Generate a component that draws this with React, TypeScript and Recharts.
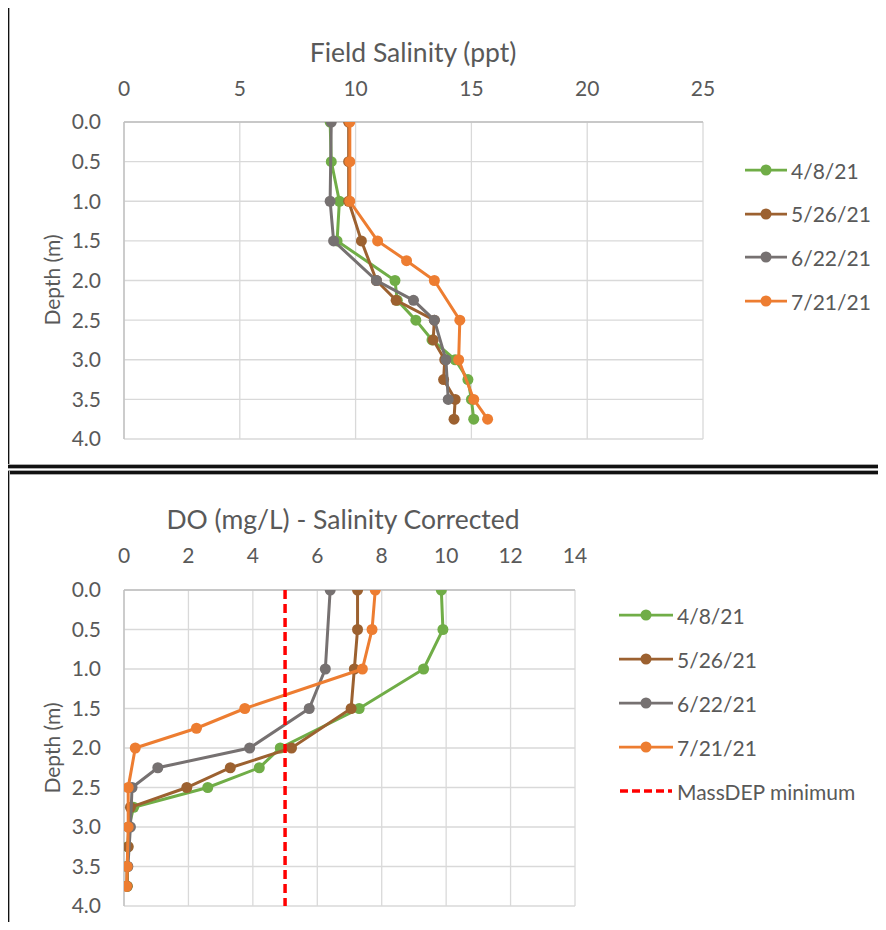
import React from 'react';
import { ScatterChart, Scatter, XAxis, YAxis, CartesianGrid } from 'recharts';

const FONT = 'Lato, "Open Sans", sans-serif';
const TEXT = '#595959';

const depthTicks = [0, 0.5, 1, 1.5, 2, 2.5, 3, 3.5, 4];
const salinityTicks = [0, 5, 10, 15, 20, 25];
const doTicks = [0, 2, 4, 6, 8, 10, 12, 14];

const seriesNames = ['4/8/21', '5/26/21', '6/22/21', '7/21/21'];
const seriesColors = ['#70AD47', '#9C6130', '#767171', '#ED7D31'];

const depths0408 = [0, 0.5, 1, 1.5, 2, 2.25, 2.5, 2.75, 3, 3.25, 3.5, 3.75];
const depths0526 = [0, 0.5, 1, 1.5, 2, 2.25, 2.5, 2.75, 3, 3.25, 3.5, 3.75];
const depths0622 = [0, 1, 1.5, 2, 2.25, 2.5, 3, 3.5];
const depths0721 = [0, 0.5, 1, 1.5, 1.75, 2, 2.5, 3, 3.5, 3.75];

const salinity0408 = [8.9, 8.95, 9.3, 9.2, 11.7, 11.8, 12.6, 13.3, 14.3, 14.85, 15.0, 15.1];
const salinity0526 = [9.7, 9.7, 9.7, 10.25, 10.9, 11.75, 13.4, 13.35, 13.85, 13.8, 14.3, 14.25];
const salinity0622 = [8.95, 8.9, 9.05, 10.9, 12.5, 13.4, 13.9, 14.0];
const salinity0721 = [9.75, 9.75, 9.75, 10.95, 12.2, 13.4, 14.5, 14.45, 15.1, 15.7];

const do0408 = [9.85, 9.9, 9.3, 7.3, 4.85, 4.2, 2.6, 0.3, 0.15, 0.12, 0.1, 0.1];
const do0526 = [7.25, 7.25, 7.15, 7.05, 5.2, 3.3, 1.95, 0.2, 0.15, 0.13, 0.1, 0.1];
const do0622 = [6.4, 6.25, 5.75, 3.9, 1.05, 0.25, 0.2, 0.12];
const do0721 = [7.8, 7.7, 7.4, 3.75, 2.25, 0.35, 0.13, 0.13, 0.1, 0.08];

const massDepValue = [5, 5];
const massDepDepth = [0, 4];
const massDepName = 'MassDEP minimum';

const allDepths = [depths0408, depths0526, depths0622, depths0721];
const allSalinity = [salinity0408, salinity0526, salinity0622, salinity0721];
const allDO = [do0408, do0526, do0622, do0721];

const build = (depths: number[], vals: number[]) => depths.map((d, i) => ({ d, v: vals[i] }));

const salinitySeries = allDepths.map((ds, i) => build(ds, allSalinity[i]));
const doSeries = allDepths.map((ds, i) => build(ds, allDO[i]));
const massDepData = build(massDepDepth, massDepValue);

const makeDot = (color: string) => (props: any) => (
  <circle cx={props.cx} cy={props.cy} r={5.5} fill={color} stroke="none" />
);
const noDot = () => <g />;

const tickStyle = { fill: TEXT, fontSize: 21, fontFamily: FONT };

const LegendItem = ({ top, left, lineW, color, label, dashed }: any) => (
  <div
    style={{
      position: 'absolute',
      left,
      top: top - 15,
      height: 30,
      display: 'flex',
      alignItems: 'center',
      fontFamily: FONT,
      fontSize: 21,
      color: TEXT,
      whiteSpace: 'nowrap',
    }}
  >
    <svg width={lineW} height={30} style={{ marginRight: 4 }}>
      {dashed ? (
        <line x1={1} y1={15} x2={lineW - 1} y2={15} stroke={color} strokeWidth={3.5} strokeDasharray="8 4" />
      ) : (
        <>
          <line x1={0} y1={15} x2={lineW} y2={15} stroke={color} strokeWidth={2.75} />
          <circle cx={lineW / 2} cy={15} r={5.5} fill={color} />
        </>
      )}
    </svg>
    {label}
  </div>
);

// frame edges: [left, top, width, height]
const frameEdges = [
  [6, 3, 890, 3],
  [6, 3, 3, 465],
  [6, 465, 890, 3],
  [6, 471, 890, 3],
  [6, 471, 3, 470],
];

const Frames = () => (
  <>
    {frameEdges.map(([l, t, w, h], i) => (
      <div
        key={i}
        style={{
          position: 'absolute',
          left: l,
          top: t,
          width: w,
          height: h,
          background: '#111',
          boxShadow: '0 0 0 1px #aaa',
          pointerEvents: 'none',
        }}
      />
    ))}
  </>
);

const YLabel = ({ cy }: any) => (
  <div
    style={{
      position: 'absolute',
      left: 52 - 60,
      top: cy - 14,
      width: 120,
      height: 28,
      lineHeight: '28px',
      textAlign: 'center',
      transform: 'rotate(-90deg)',
      fontFamily: FONT,
      fontSize: 21,
      color: TEXT,
      whiteSpace: 'nowrap',
    }}
  >
    Depth (m)
  </div>
);

const Title = ({ cx, cy, text }: any) => (
  <div
    style={{
      position: 'absolute',
      left: cx - 250,
      top: cy - 18,
      width: 500,
      height: 36,
      lineHeight: '36px',
      textAlign: 'center',
      fontFamily: FONT,
      fontSize: 26.5,
      color: TEXT,
      whiteSpace: 'nowrap',
    }}
  >
    {text}
  </div>
);

export default function App() {
  return (
    <div
      style={{
        position: 'relative',
        width: 886,
        height: 930,
        margin: -8,
        overflow: 'hidden',
        background: '#fff',
      }}
    >
      <Title cx={413} cy={52} text="Field Salinity (ppt)" />
      <Title cx={343} cy={519} text="DO (mg/L) - Salinity Corrected" />
      <YLabel cy={280} />
      <YLabel cy={748} />

      <div style={{ position: 'absolute', left: 0, top: 0 }}>
        <ScatterChart width={886} height={466} margin={{ top: 92, right: 183, bottom: 27, left: 64 }}>
          <CartesianGrid stroke="#D9D9D9" strokeWidth={1.3} />
          <XAxis
            type="number"
            dataKey="v"
            orientation="top"
            domain={[0, 25]}
            ticks={salinityTicks}
            interval={0}
            height={30}
            axisLine={{ stroke: '#BFBFBF', strokeWidth: 1.3 }}
            tickLine={false}
            tickSize={0}
            tickMargin={26}
            tick={tickStyle}
            allowDataOverflow
          />
          <YAxis
            type="number"
            dataKey="d"
            reversed
            domain={[0, 4]}
            ticks={depthTicks}
            interval={0}
            width={60}
            axisLine={{ stroke: '#BFBFBF', strokeWidth: 1.3 }}
            tickLine={false}
            tickSize={0}
            tickMargin={23}
            tick={tickStyle}
            tickFormatter={(v: number) => v.toFixed(1)}
            allowDataOverflow
          />
          {salinitySeries.map((data, i) => (
            <Scatter
              key={seriesNames[i]}
              name={seriesNames[i]}
              data={data}
              line={{ stroke: seriesColors[i], strokeWidth: 3 }}
              shape={makeDot(seriesColors[i])}
              isAnimationActive={false}
            />
          ))}
        </ScatterChart>
      </div>

      <div style={{ position: 'absolute', left: 0, top: 466 }}>
        <ScatterChart width={886} height={464} margin={{ top: 94, right: 311, bottom: 24, left: 64 }}>
          <CartesianGrid stroke="#D9D9D9" strokeWidth={1.3} />
          <XAxis
            type="number"
            dataKey="v"
            orientation="top"
            domain={[0, 14]}
            ticks={doTicks}
            interval={0}
            height={30}
            axisLine={{ stroke: '#BFBFBF', strokeWidth: 1.3 }}
            tickLine={false}
            tickSize={0}
            tickMargin={27}
            tick={tickStyle}
            allowDataOverflow
          />
          <YAxis
            type="number"
            dataKey="d"
            reversed
            domain={[0, 4]}
            ticks={depthTicks}
            interval={0}
            width={60}
            axisLine={{ stroke: '#BFBFBF', strokeWidth: 1.3 }}
            tickLine={false}
            tickSize={0}
            tickMargin={23}
            tick={tickStyle}
            tickFormatter={(v: number) => v.toFixed(1)}
            allowDataOverflow
          />
          {doSeries.map((data, i) => (
            <Scatter
              key={seriesNames[i]}
              name={seriesNames[i]}
              data={data}
              line={{ stroke: seriesColors[i], strokeWidth: 3 }}
              shape={makeDot(seriesColors[i])}
              isAnimationActive={false}
            />
          ))}
          <Scatter
            name={massDepName}
            data={massDepData}
            line={{ stroke: '#FF0000', strokeWidth: 3.5, strokeDasharray: '9 5' }}
            shape={noDot}
            isAnimationActive={false}
          />
        </ScatterChart>
      </div>

      {seriesNames.map((n, i) => (
        <LegendItem key={'t' + n} top={170 + i * 43.7} left={745} lineW={42} color={seriesColors[i]} label={n} />
      ))}
      {seriesNames.map((n, i) => (
        <LegendItem key={'b' + n} top={615 + i * 44} left={619} lineW={54} color={seriesColors[i]} label={n} />
      ))}
      <LegendItem top={791} left={619} lineW={54} color="#FF0000" label={massDepName} dashed />

      <Frames />
    </div>
  );
}
